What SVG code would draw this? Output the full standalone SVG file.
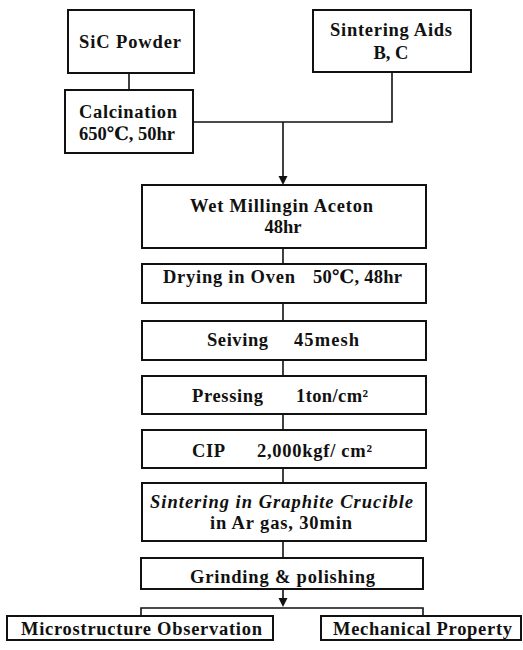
<svg xmlns="http://www.w3.org/2000/svg" width="523" height="650" viewBox="0 0 523 650">
<style>
.box{fill:#fff;stroke:#111;stroke-width:2}
.t{font-family:"Liberation Serif","DejaVu Serif",serif;font-weight:bold;font-size:18.5px;fill:#111}
.i{font-style:italic}
.c{fill:none;stroke:#111;stroke-width:1.6}
</style>
<rect width="523" height="650" fill="#fff"/>
<g id="connectors">
<line class="c" x1="129" y1="73" x2="129" y2="90"/>
<polyline class="c" points="193,122 392,122 392,72"/>
<line class="c" x1="283" y1="122" x2="283" y2="177"/>
<path d="M278.5,176 L287.5,176 L283,185 Z" fill="#111"/>
<line class="c" x1="283" y1="248" x2="283" y2="264"/>
<line class="c" x1="283" y1="303" x2="283" y2="321"/>
<line class="c" x1="283" y1="360" x2="283" y2="376"/>
<line class="c" x1="283" y1="414" x2="283" y2="430"/>
<line class="c" x1="283" y1="468" x2="283" y2="483"/>
<line class="c" x1="283" y1="541" x2="283" y2="558"/>
<line class="c" x1="283" y1="589" x2="283" y2="599"/>
<path d="M278.5,598 L287.5,598 L283,607 Z" fill="#111"/>
<polyline class="c" points="141,616 141,608 423,608 423,616"/>
</g>
<g id="sic">
<rect class="box" x="68" y="10" width="126" height="63"/>
<text class="t" x="79" y="48" textLength="102" lengthAdjust="spacing">SiC Powder</text>
</g>
<g id="aids">
<rect class="box" x="313" y="10" width="158" height="62"/>
<text class="t" x="330" y="36" textLength="122" lengthAdjust="spacing">Sintering Aids</text>
<text class="t" x="391" y="59" text-anchor="middle">B, C</text>
</g>
<g id="calcination">
<rect class="box" x="65" y="90" width="128" height="63"/>
<text class="t" x="79" y="118" textLength="98" lengthAdjust="spacing">Calcination</text>
<text class="t" x="79" y="140" textLength="96" lengthAdjust="spacing">650℃, 50hr</text>
</g>
<g id="milling">
<rect class="box" x="142" y="185" width="284" height="63"/>
<text class="t" x="190" y="212" textLength="183" lengthAdjust="spacing">Wet Millingin Aceton</text>
<text class="t" x="283" y="233" text-anchor="middle">48hr</text>
</g>
<g id="drying">
<rect class="box" x="142" y="264" width="284" height="39"/>
<text class="t" x="163" y="283" textLength="132" lengthAdjust="spacing">Drying in Oven</text>
<text class="t" x="313" y="283" textLength="89" lengthAdjust="spacing">50℃, 48hr</text>
</g>
<g id="seiving">
<rect class="box" x="142" y="321" width="284" height="39"/>
<text class="t" x="207" y="346" textLength="61" lengthAdjust="spacing">Seiving</text>
<text class="t" x="294" y="346" textLength="65" lengthAdjust="spacing">45mesh</text>
</g>
<g id="pressing">
<rect class="box" x="142" y="376" width="284" height="38"/>
<text class="t" x="192" y="402" textLength="71" lengthAdjust="spacing">Pressing</text>
<text class="t" x="296" y="402" textLength="72" lengthAdjust="spacing">1ton/cm²</text>
</g>
<g id="cip">
<rect class="box" x="142" y="430" width="284" height="38"/>
<text class="t" x="192" y="457" textLength="33" lengthAdjust="spacing">CIP</text>
<text class="t" x="257" y="457" textLength="115" lengthAdjust="spacing">2,000kgf/ cm²</text>
</g>
<g id="sintering">
<rect class="box" x="142" y="483" width="284" height="58"/>
<text class="t i" x="150" y="508" textLength="263" lengthAdjust="spacing">Sintering in Graphite Crucible</text>
<text class="t" x="210" y="529" textLength="142" lengthAdjust="spacing">in Ar gas, 30min</text>
</g>
<g id="grinding">
<rect class="box" x="141" y="558" width="282" height="31"/>
<text class="t" x="190" y="583" textLength="185" lengthAdjust="spacing">Grinding &amp; polishing</text>
</g>
<g id="micro">
<rect class="box" x="7" y="616" width="266" height="24"/>
<text class="t" x="21" y="635" textLength="241" lengthAdjust="spacing">Microstructure Observation</text>
</g>
<g id="mech">
<rect class="box" x="321" y="616" width="200" height="24"/>
<text class="t" x="333" y="635" textLength="179" lengthAdjust="spacing">Mechanical Property</text>
</g>
</svg>
